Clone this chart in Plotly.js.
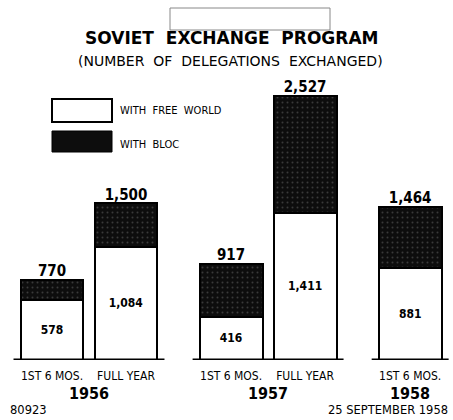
<!DOCTYPE html>
<html><head><meta charset="utf-8">
<script src="https://cdn.plot.ly/plotly-3.0.1.min.js"></script>
<style>html,body{margin:0;padding:0;background:#fff}#chart{width:453px;height:420px}</style>
</head><body><div id="chart"></div>
<script>
// Data
const periods = ["1ST 6 MOS.", "FULL YEAR", "1ST 6 MOS.", "FULL YEAR", "1ST 6 MOS."];
const years = ["1956", "1956", "1957", "1957", "1958"];
const freeWorld = [578, 1084, 416, 1411, 881];
const totals = [770, 1500, 917, 2527, 1464];
const yearLabels = ["1956", "1957", "1958"];

const bloc = totals.map((t, i) => t - freeWorld[i]);

// layout positions: consecutive bars, extra gap between years
const GAP = 0.42;
const groupIdx = years.map(y => yearLabels.indexOf(y));
const xs = periods.map((_, i) => i + groupIdx[i] * GAP);

const F = "DejaVu Sans Condensed, DejaVu Sans, sans-serif";
const lineStyle = {color: '#000', width: 2};

const traces = [
  {type: 'bar', x: xs, y: freeWorld, width: 0.85, name: 'WITH FREE WORLD',
   marker: {color: '#fff', line: lineStyle},
   text: freeWorld.map(v => v.toLocaleString('en-US')), textposition: 'inside',
   insidetextanchor: 'middle', textangle: 0,
   textfont: {family: F, size: 12, color: '#000', weight: 'bold'}, hoverinfo: 'skip'},
  {type: 'bar', x: xs, y: bloc, width: 0.85, name: 'WITH BLOC',
   marker: {color: '#111', line: lineStyle,
            pattern: {shape: '.', bgcolor: '#0d0d0d', fgcolor: '#3a3a3a', size: 5, solidity: 0.12}},
   hoverinfo: 'skip'},
  {type: 'scatter', mode: 'text', x: xs, y: totals,
   text: totals.map(v => v.toLocaleString('en-US')), textposition: 'top center',
   textfont: {family: F, size: 15, color: '#000', weight: 'bold'}, hoverinfo: 'skip', cliponaxis: false}
];

// baselines under each year group
const shapes = yearLabels.map((y, g) => {
  const gx = xs.filter((_, i) => groupIdx[i] === g);
  return {type: 'line', xref: 'x', yref: 'y', x0: Math.min(...gx) - 0.52, x1: Math.max(...gx) + 0.52,
          y0: 0, y1: 0, line: {color: '#000', width: 3}};
});
// empty box at top
shapes.push({type: 'rect', xref: 'paper', yref: 'paper', x0: 170/453, x1: 330/453,
             y0: 1 - 30/420, y1: 1 - 8/420, line: {color: '#888', width: 1}, fillcolor: 'rgba(0,0,0,0)'});
// legend swatches
shapes.push({type: 'rect', xref: 'paper', yref: 'paper', x0: 52/453, x1: 112/453,
             y0: 1 - 122/420, y1: 1 - 99/420, line: {color: '#000', width: 2}, fillcolor: '#fff'});
shapes.push({type: 'rect', xref: 'paper', yref: 'paper', x0: 52/453, x1: 112/453,
             y0: 1 - 152/420, y1: 1 - 131/420, line: {color: '#000', width: 1}, fillcolor: '#0d0d0d'});

const pa = (text, px, py, size, family, xanchor) => ({
  text: text, x: px/453, y: 1 - py/420, xref: 'paper', yref: 'paper', xanchor: xanchor || 'center',
  yanchor: 'middle', showarrow: false, font: {family: family, size: size, color: '#000'}});

const annotations = [
  pa('<b>SOVIET  EXCHANGE  PROGRAM</b>', 232, 38, 17, 'DejaVu Sans, sans-serif'),
  pa('(NUMBER  OF  DELEGATIONS  EXCHANGED)', 230, 61, 14, 'DejaVu Sans, sans-serif'),
  pa('WITH  FREE  WORLD', 118, 111, 11, F, 'left'),
  pa('WITH  BLOC', 118, 144, 11, F, 'left'),
  pa('80923', 8, 410, 11.5, 'DejaVu Sans, sans-serif', 'left'),
  pa('25 SEPTEMBER 1958', 450, 410, 11.5, 'DejaVu Sans, sans-serif', 'right')
];
yearLabels.forEach((y, g) => {
  const gx = xs.filter((_, i) => groupIdx[i] === g);
  annotations.push({text: '<b>' + y + '</b>', x: (Math.min(...gx) + Math.max(...gx)) / 2, xref: 'x',
    y: 1 - 393/420, yref: 'paper', yanchor: 'middle', showarrow: false,
    font: {family: F, size: 16, color: '#000'}});
});

const layout = {
  width: 453, height: 420, margin: {l: 0, r: 0, t: 0, b: 0},
  paper_bgcolor: '#fff', plot_bgcolor: '#fff', barmode: 'stack', showlegend: false,
  xaxis: {range: [-52/74, 401/74], tickvals: xs, ticktext: periods, showgrid: false, zeroline: false,
          showline: false, ticks: '', ticklabelstandoff: 7,
          tickfont: {family: F, size: 12, color: '#000'}, fixedrange: true},
  yaxis: {domain: [60/420, 1], range: [0, 3446], visible: false, fixedrange: true},
  shapes: shapes, annotations: annotations
};
Plotly.newPlot('chart', traces, layout, {displayModeBar: false, staticPlot: true});
</script></body></html>
